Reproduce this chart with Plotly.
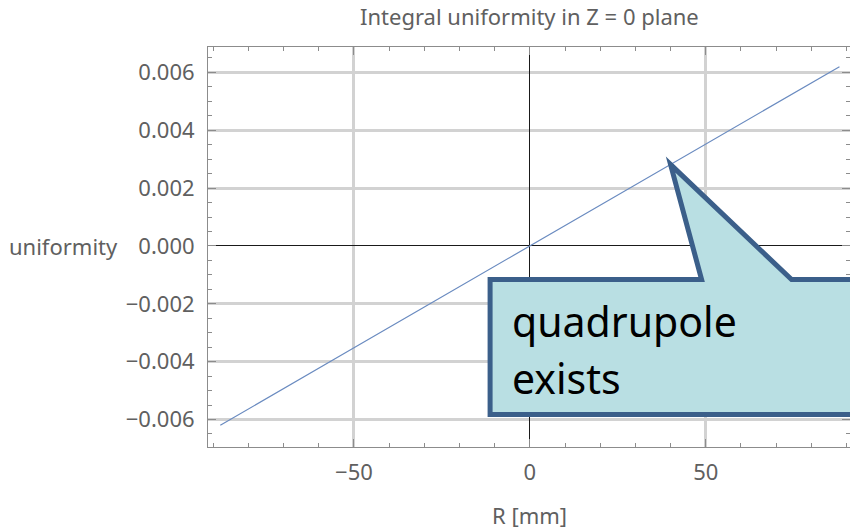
import numpy as np
import plotly.graph_objects as go

# Integral uniformity along R in the Z = 0 plane
r_mm = [-88, -70, -50, -30, -10, 0, 10, 30, 50, 70, 88]
uniformity = [-0.0062, -0.00494, -0.00352, -0.00211, -0.00070, 0.0,
              0.00070, 0.00211, 0.00352, 0.00494, 0.0062]

x_ticks = [-50, 0, 50]
y_ticks = [-0.006, -0.004, -0.002, 0.0, 0.002, 0.004, 0.006]

callout_r = 40  # R position the callout points at
callout_lines = ["quadrupole", "exists"]

LABEL_FONT = dict(family="Noto Sans, Open Sans, sans-serif", size=22, color="#606060")
FRAME = "#8c8c8c"
GRID = "#d2d2d2"

fig = go.Figure()
fig.add_trace(go.Scatter(
    x=r_mm, y=uniformity, mode="lines",
    line=dict(color="#6a8bc0", width=1.2),
    showlegend=False, hoverinfo="x+y",
))

axis_common = dict(
    showline=True, linecolor=FRAME, linewidth=1, mirror="allticks",
    ticks="inside", tickcolor=FRAME, tickwidth=1, ticklen=8,
    showgrid=True, gridcolor=GRID, gridwidth=3,
    zeroline=True, zerolinecolor="#1a1a1a", zerolinewidth=1.2,
    tickfont=LABEL_FONT,
)

fig.update_xaxes(
    range=[-91.5, 91.0], tickmode="array", tickvals=x_ticks,
    minor=dict(dtick=10, tick0=0, ticks="inside", ticklen=4,
               tickcolor=FRAME, showgrid=False),
    ticklabelstandoff=6,
    **axis_common,
)
fig.update_yaxes(
    range=[-0.00695, 0.00688], tickmode="array", tickvals=y_ticks,
    tickformat=".3f",
    minor=dict(dtick=0.0005, tick0=0, ticks="inside", ticklen=4,
               tickcolor=FRAME, showgrid=False),
    ticklabelstandoff=8,
    **axis_common,
)

# Callout balloon: tip sits on the curve, body drawn in pixel offsets
tip_y = float(np.interp(callout_r, r_mm, uniformity))
fig.add_shape(
    type="path", xref="x", yref="y",
    xsizemode="pixel", ysizemode="pixel",
    xanchor=callout_r, yanchor=tip_y,
    path="M 0,0 L 31,-115 L -180.5,-115 L -180.5,-250 L 200,-250 L 200,-115 L 121,-115 Z",
    fillcolor="#b9dfe3", line=dict(color="#3b5f8a", width=5),
    layer="above",
)
for i, txt in enumerate(callout_lines):
    fig.add_annotation(
        x=callout_r, y=tip_y, xref="x", yref="y", text=txt,
        showarrow=False, xanchor="left", yanchor="middle",
        xshift=-161, yshift=-156 - 57 * i,
        font=dict(family="Noto Sans, Open Sans, sans-serif", size=41, color="#000000"),
    )

# Title and axis labels
fig.add_annotation(
    x=0, y=1.0775, xref="x", yref="paper", text="Integral uniformity in Z = 0 plane",
    showarrow=False, xanchor="center", yanchor="middle", font=LABEL_FONT,
)
fig.add_annotation(
    x=0, y=-0.17, xref="x", yref="paper", text="R [mm]",
    showarrow=False, xanchor="center", yanchor="middle", font=LABEL_FONT,
)
fig.add_annotation(
    x=0, y=0, xref="paper", yref="y", text="uniformity",
    showarrow=False, xanchor="left", yanchor="middle", xshift=-201,
    font=LABEL_FONT,
)

fig.update_layout(
    width=850, height=530,
    margin=dict(l=208, r=0, t=47, b=83),
    paper_bgcolor="white", plot_bgcolor="white",
)

fig.write_html("out.html")
